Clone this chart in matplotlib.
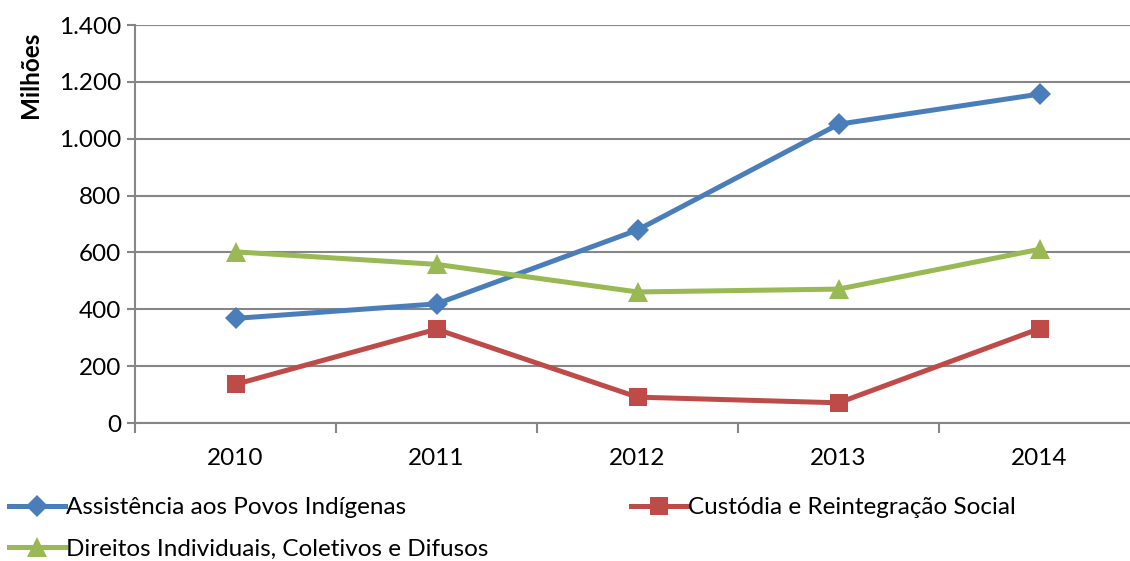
import matplotlib
matplotlib.use("Agg")
import matplotlib.pyplot as plt
from matplotlib.ticker import FuncFormatter, FixedLocator

plt.rcParams['font.family'] = ['Lato', 'DejaVu Sans']

years = ["2010", "2011", "2012", "2013", "2014"]
assistencia = [368, 419, 679, 1051, 1157]
custodia = [136, 330, 91, 71, 332]
direitos = [602, 558, 461, 471, 611]

labels = ["Assistência aos Povos Indígenas",
          "Custódia e Reintegração Social",
          "Direitos Individuais, Coletivos e Difusos"]
colors = ["#4A7EBB", "#BE4B48", "#98B954"]
markers = ["D", "s", "^"]
msizes = [11, 13, 14]

fig = plt.figure(figsize=(11.30, 5.61), dpi=100)
ax = fig.add_axes([135/1130, 1-423/561, 1-135/1130, (423-25)/561])

x = list(range(len(years)))
handles = []
for vals, lab, c, m, ms in zip([assistencia, custodia, direitos], labels, colors, markers, msizes):
    h, = ax.plot(x, vals, color=c, lw=3.6, marker=m, markersize=ms,
                 markeredgewidth=0, label=lab, zorder=3, clip_on=False)
    handles.append(h)

ax.set_ylim(0, 1400)
ax.set_xlim(-0.5, 4.45)
ax.set_yticks(range(0, 1401, 200))
ax.yaxis.set_major_formatter(FuncFormatter(lambda v, p: f"{int(v):,}".replace(",", ".")))
ax.set_xticks(x)
ax.set_xticklabels(years)
ax.xaxis.set_minor_locator(FixedLocator([i - 0.5 for i in range(len(years) + 1)]))
ax.tick_params(axis='x', which='major', length=0, pad=18, labelsize=17.5)
ax.tick_params(axis='x', which='minor', length=7, width=1.5, color='#868686', direction='out')
ax.tick_params(axis='y', length=6, width=1.5, color='#868686', labelsize=17.5, pad=4)

ax.grid(axis='y', color='#868686', lw=1.5, zorder=0)
ax.set_axisbelow(True)
for s in ['top', 'right']:
    ax.spines[s].set_visible(False)
for s in ['left', 'bottom']:
    ax.spines[s].set_color('#868686')
    ax.spines[s].set_linewidth(1.5)

fig.text(30/1130, 1-75/561, "Milhões", rotation=90, fontsize=17.5, fontweight='bold',
         ha='center', va='center')

fig.legend([handles[0], handles[2], handles[1]], [labels[0], labels[2], labels[1]],
           ncol=2, loc='lower left', bbox_to_anchor=(8/1130, 0.0), frameon=False,
           fontsize=17.5, handlelength=2.3, handletextpad=0.05, columnspacing=5.85,
           labelspacing=0.85, borderaxespad=0.0, borderpad=0.05)

fig.savefig("out.png", dpi=100)
